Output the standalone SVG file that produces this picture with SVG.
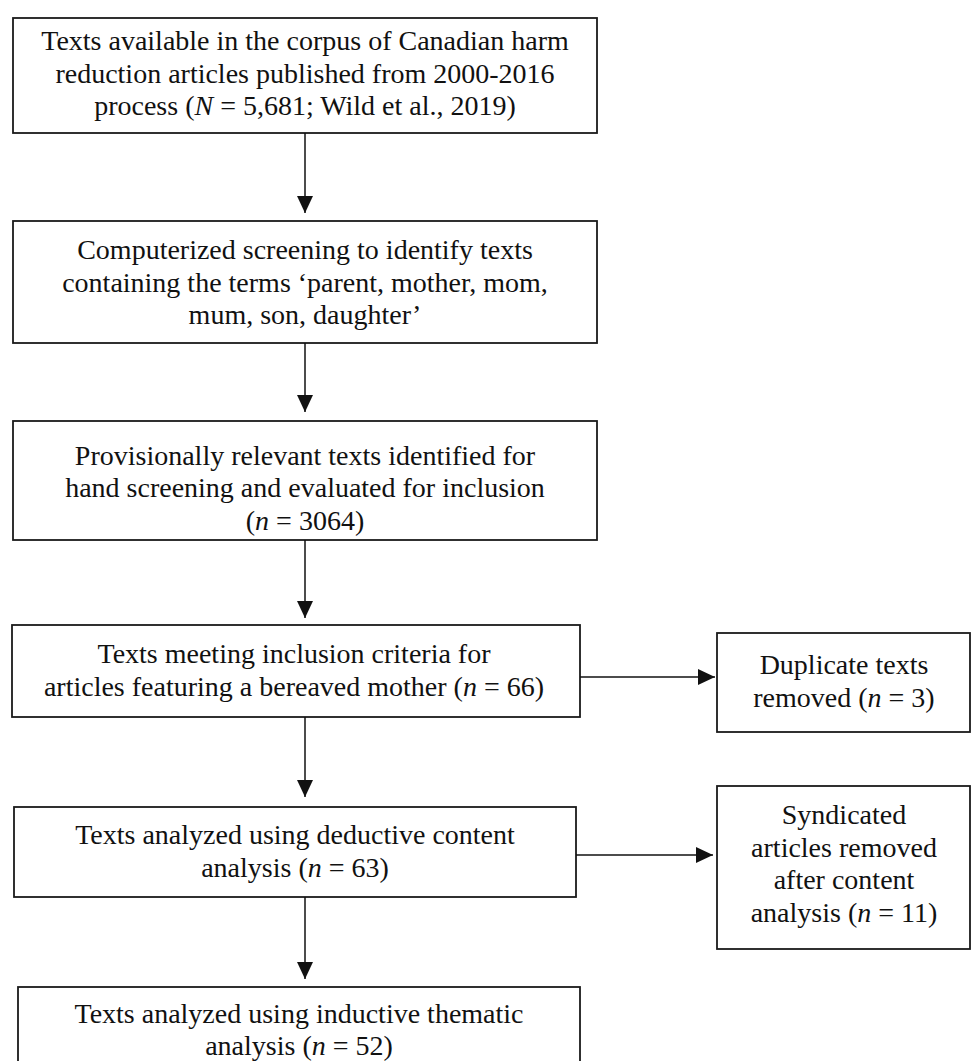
<svg xmlns="http://www.w3.org/2000/svg" width="972" height="1061" viewBox="0 0 972 1061">
<style>
.box{fill:#fff;stroke:#1a1a1a;stroke-width:1.8}
.t{font-family:"Liberation Serif","Times New Roman",serif;font-size:28px;fill:#111;text-anchor:middle}
.i{font-style:italic}
.c{stroke:#111;stroke-width:1.5;fill:none}
</style>
<defs>
<marker id="ah" markerWidth="17" markerHeight="16" refX="17" refY="8" orient="auto" markerUnits="userSpaceOnUse">
<path d="M0,0 L17,8 L0,16 Z" fill="#111"/>
</marker>
</defs>
<rect width="972" height="1061" fill="#fff"/>
<g id="n1">
<rect class="box" x="13" y="18" width="584" height="115"/>
<text class="t" x="305" y="50">Texts available in the corpus of Canadian harm</text>
<text class="t" x="305" y="82.5">reduction articles published from 2000-2016</text>
<text class="t" x="305" y="115">process (<tspan class="i">N</tspan> = 5,681; Wild et al., 2019)</text>
</g>
<g id="n2">
<rect class="box" x="13" y="221" width="584" height="122"/>
<text class="t" x="305" y="259">Computerized screening to identify texts</text>
<text class="t" x="305" y="291.5">containing the terms ‘parent, mother, mom,</text>
<text class="t" x="305" y="324">mum, son, daughter’</text>
</g>
<g id="n3">
<rect class="box" x="13" y="421" width="584" height="119"/>
<text class="t" x="305" y="464.5">Provisionally relevant texts identified for</text>
<text class="t" x="305" y="497">hand screening and evaluated for inclusion</text>
<text class="t" x="305" y="529.5">(<tspan class="i">n</tspan> = 3064)</text>
</g>
<g id="n4">
<rect class="box" x="12" y="625" width="568" height="92"/>
<text class="t" x="294" y="663">Texts meeting inclusion criteria for</text>
<text class="t" x="294" y="696">articles featuring a bereaved mother (<tspan class="i">n</tspan> = 66)</text>
</g>
<g id="n5">
<rect class="box" x="717" y="633" width="253" height="99"/>
<text class="t" x="844" y="674">Duplicate texts</text>
<text class="t" x="844" y="706.5">removed (<tspan class="i">n</tspan> = 3)</text>
</g>
<g id="n6">
<rect class="box" x="14" y="807" width="562" height="90"/>
<text class="t" x="295" y="844">Texts analyzed using deductive content</text>
<text class="t" x="295" y="876.5">analysis (<tspan class="i">n</tspan> = 63)</text>
</g>
<g id="n7">
<rect class="box" x="717" y="786" width="253" height="163"/>
<text class="t" x="844" y="824">Syndicated</text>
<text class="t" x="844" y="856.5">articles removed</text>
<text class="t" x="844" y="889">after content</text>
<text class="t" x="844" y="921.5">analysis (<tspan class="i">n</tspan> = 11)</text>
</g>
<g id="n8">
<rect class="box" x="18" y="987" width="562" height="100"/>
<text class="t" x="299" y="1023">Texts analyzed using inductive thematic</text>
<text class="t" x="299" y="1055">analysis (<tspan class="i">n</tspan> = 52)</text>
</g>
<g id="connectors">
<line class="c" x1="305" y1="133" x2="305" y2="213" marker-end="url(#ah)"/>
<line class="c" x1="305" y1="343" x2="305" y2="412" marker-end="url(#ah)"/>
<line class="c" x1="305" y1="540" x2="305" y2="618" marker-end="url(#ah)"/>
<line class="c" x1="305" y1="717" x2="305" y2="797" marker-end="url(#ah)"/>
<line class="c" x1="305" y1="897" x2="305" y2="979" marker-end="url(#ah)"/>
<line class="c" x1="580" y1="677" x2="715" y2="677" marker-end="url(#ah)"/>
<line class="c" x1="576" y1="855" x2="713" y2="855" marker-end="url(#ah)"/>
</g>
</svg>
